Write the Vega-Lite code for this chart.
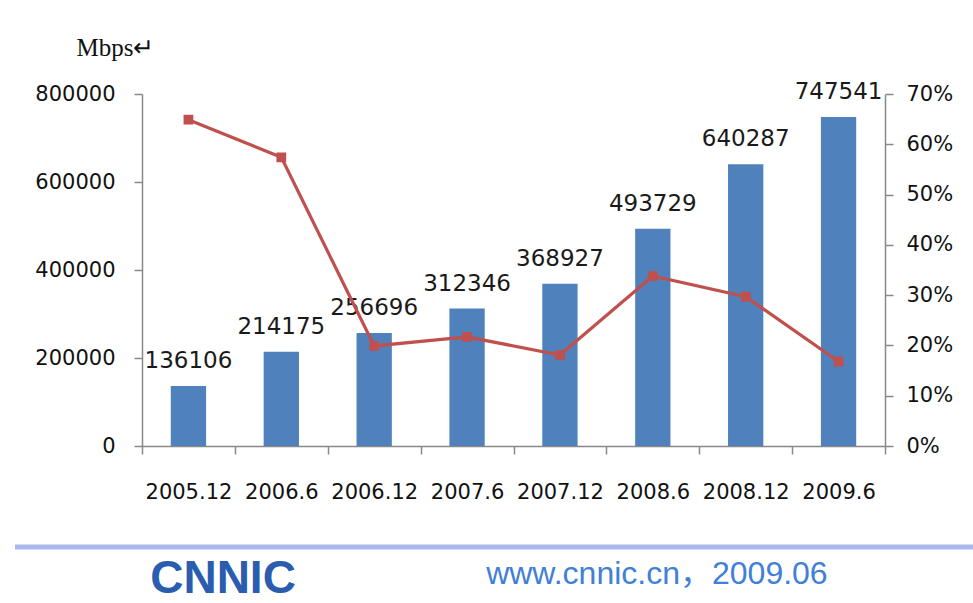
{
  "$schema": "https://vega.github.io/schema/vega-lite/v6.json",
  "background": "white",
  "padding": {"left": 34, "top": 35, "right": 0, "bottom": 0},
  "spacing": 45,
  "config": {"view": {"stroke": null}, "font": "DejaVu Sans"},
  "vconcat": [
    {
      "width": 743,
      "height": 352,
      "data": {
        "values": [
          {"period": "2005.12", "bandwidth": 136106, "growth": 0.649},
          {"period": "2006.6", "bandwidth": 214175, "growth": 0.574},
          {"period": "2006.12", "bandwidth": 256696, "growth": 0.199},
          {"period": "2007.6", "bandwidth": 312346, "growth": 0.217},
          {"period": "2007.12", "bandwidth": 368927, "growth": 0.181},
          {"period": "2008.6", "bandwidth": 493729, "growth": 0.338},
          {"period": "2008.12", "bandwidth": 640287, "growth": 0.297},
          {"period": "2009.6", "bandwidth": 747541, "growth": 0.168}
        ]
      },
      "encoding": {
        "x": {
          "field": "period",
          "type": "nominal",
          "sort": null,
          "scale": {"paddingInner": 0, "paddingOuter": 0},
          "axis": {
            "title": null,
            "labelAngle": 0,
            "labelFont": "DejaVu Sans",
            "labelFontSize": 21,
            "labelColor": "#111111",
            "labelPadding": 27,
            "tickBand": "extent",
            "tickSize": 8,
            "tickColor": "#888888",
            "domainColor": "#888888",
            "tickWidth": 1.5,
            "domainWidth": 1.5,
            "grid": false
          }
        }
      },
      "layer": [
        {
          "mark": {"type": "bar", "color": "#4F81BD", "width": {"band": 0.38}},
          "encoding": {
            "y": {
              "field": "bandwidth",
              "type": "quantitative",
              "scale": {"domain": [0, 800000], "nice": false},
              "axis": {
                "orient": "left",
                "values": [0, 200000, 400000, 600000, 800000],
                "format": "d",
                "grid": false,
                "labelFont": "DejaVu Sans",
                "labelFontSize": 21,
                "labelColor": "#111111",
                "labelPadding": 19,
                "tickSize": 8,
                "tickColor": "#888888",
                "domainColor": "#888888",
                "tickWidth": 1.5,
                "domainWidth": 1.5,
                "title": "Mbps↵",
                "titleAngle": 0,
                "titleX": -27,
                "titleY": -47,
                "titleAlign": "center",
                "titleBaseline": "middle",
                "titleFont": "Liberation Serif",
                "titleFontSize": 25,
                "titleFontWeight": "normal",
                "titleColor": "#111111"
              }
            }
          }
        },
        {
          "mark": {"type": "text", "baseline": "alphabetic", "dy": -18, "font": "DejaVu Sans", "fontSize": 23, "color": "#1a1a1a"},
          "encoding": {
            "y": {"field": "bandwidth", "type": "quantitative", "scale": {"domain": [0, 800000], "nice": false}, "axis": null},
            "text": {"field": "bandwidth", "type": "quantitative", "format": "d"}
          }
        },
        {
          "mark": {
            "type": "line",
            "color": "#C0504D",
            "strokeWidth": 3.2,
            "point": {"shape": "square", "size": 95, "filled": true, "color": "#C0504D"}
          },
          "encoding": {
            "y": {
              "field": "growth",
              "type": "quantitative",
              "scale": {"domain": [0, 0.7], "nice": false},
              "axis": {
                "orient": "right",
                "values": [0, 0.1, 0.2, 0.3, 0.4, 0.5, 0.6, 0.7],
                "format": ".0%",
                "grid": false,
                "title": null,
                "labelFont": "DejaVu Sans",
                "labelFontSize": 21,
                "labelColor": "#111111",
                "labelPadding": 13,
                "tickSize": 8,
                "tickColor": "#888888",
                "domainColor": "#888888",
                "tickWidth": 1.5,
                "domainWidth": 1.5
              }
            }
          }
        }
      ],
      "resolve": {"scale": {"y": "independent"}}
    },
    {
      "width": 958,
      "height": 56,
      "data": {
        "values": [
          {"item": "logo", "label": "CNNIC"},
          {"item": "site", "label": "www.cnnic.cn，2009.06"}
        ]
      },
      "encoding": {
        "x": {
          "field": "item",
          "type": "nominal",
          "scale": {"type": "point", "padding": 0.604, "align": 0.1546},
          "axis": {
            "orient": "top",
            "title": null,
            "labels": false,
            "ticks": false,
            "grid": false,
            "translate": -127,
            "offset": -127,
            "domainColor": "#a9b9ee",
            "domainWidth": 5
          }
        },
        "text": {"field": "label", "type": "nominal"}
      },
      "layer": [
        {
          "transform": [{"filter": "datum.item === 'logo'"}],
          "mark": {"type": "text", "font": "Liberation Sans", "fontWeight": "bold", "fontSize": 46, "color": "#2a5db0", "baseline": "middle", "dy": 4}
        },
        {
          "transform": [{"filter": "datum.item === 'site'"}],
          "mark": {"type": "text", "font": "Liberation Sans, Noto Sans CJK SC", "fontSize": 32, "color": "#4080d8", "baseline": "middle", "dy": -1}
        }
      ]
    }
  ]
}
